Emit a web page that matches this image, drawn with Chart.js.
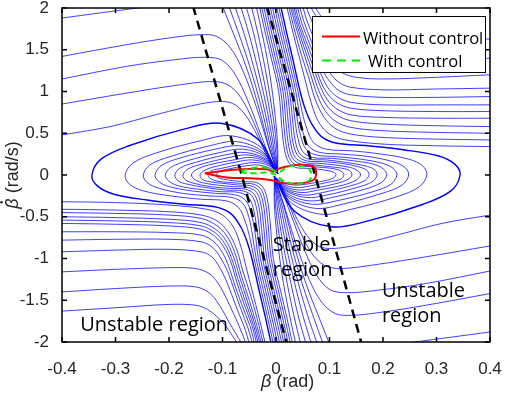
<!DOCTYPE html>
<html>
<head>
<meta charset="utf-8">
<script src="https://cdn.jsdelivr.net/npm/chart.js@4.4.1/dist/chart.umd.min.js"></script>
<style>
  html, body { margin: 0; padding: 0; background: #fff; }
  #wrap { width: 505px; height: 395px; }
</style>
</head>
<body>
<div id="wrap"><canvas id="phase" width="505" height="395"></canvas></div>
<script>
// axis ticks
const xTicks = [-0.4, -0.3, -0.2, -0.1, 0, 0.1, 0.2, 0.3, 0.4];
const xTickLabels = ['-0.4', '-0.3', '-0.2', '-0.1', '0', '0.1', '0.2', '0.3', '0.4'];
const yTicks = [-2, -1.5, -1, -0.5, 0, 0.5, 1, 1.5, 2];
const yTickLabels = ['-2', '-1.5', '-1', '-0.5', '0', '0.5', '1', '1.5', '2'];

// streamlines, every line is [beta, betaDot, beta, betaDot, ...]
// upper left: come in from the left edge, turn down into the origin
const upperLeftFlow = [
  [-0.4,1.88, -0.33,1.94, -0.26,2.0, -0.2,2.06],
  [-0.4,1.42, -0.28,1.56, -0.19,1.65, -0.142,1.68, -0.111,1.66, -0.085,1.52, -0.062,1.25, -0.036,0.8, -0.015,0.36, 0.003,0.02],
  [-0.4,1.15, -0.28,1.3, -0.19,1.38, -0.13,1.41, -0.1,1.37, -0.076,1.2, -0.052,0.88, -0.027,0.46, -0.008,0.14, 0.003,0.02],
  [-0.4,0.85, -0.28,0.98, -0.19,1.07, -0.12,1.12, -0.09,1.08, -0.066,0.93, -0.041,0.62, -0.018,0.26, 0.003,0.02],
  [-0.4,0.48, -0.31,0.58, -0.22,0.73, -0.142,0.85, -0.1,0.88, -0.076,0.84, -0.053,0.68, -0.028,0.38, -0.009,0.12, 0.003,0.02]
];
// lower right: come in from the right edge, turn up into the origin
const lowerRightFlow = [
  [0.4,-1.88, 0.33,-1.94, 0.26,-2.0, 0.2,-2.06],
  [0.4,-1.42, 0.28,-1.56, 0.19,-1.65, 0.142,-1.68, 0.111,-1.66, 0.085,-1.52, 0.062,-1.25, 0.036,-0.8, 0.015,-0.36, -0.003,-0.02],
  [0.4,-1.15, 0.28,-1.3, 0.19,-1.38, 0.13,-1.41, 0.1,-1.37, 0.076,-1.2, 0.052,-0.88, 0.027,-0.46, 0.008,-0.14, -0.003,-0.02],
  [0.4,-0.85, 0.28,-0.98, 0.19,-1.07, 0.12,-1.12, 0.09,-1.08, 0.066,-0.93, 0.041,-0.62, 0.018,-0.26, -0.003,-0.02],
  [0.4,-0.48, 0.31,-0.58, 0.22,-0.73, 0.142,-0.85, 0.1,-0.88, 0.076,-0.84, 0.053,-0.68, 0.028,-0.38, 0.009,-0.12, -0.003,-0.02]
];
// from the top edge down into the origin
const topFlow = [
  [-0.1,2.02, -0.08,1.7, -0.056,1.3, -0.034,0.85, -0.014,0.36, 0.003,0.02],
  [-0.088,2.02, -0.07,1.7, -0.049,1.3, -0.029,0.85, -0.011,0.36, 0.003,0.02],
  [-0.077,2.02, -0.06,1.7, -0.042,1.3, -0.024,0.85, -0.008,0.36, 0.003,0.02],
  [-0.066,2.02, -0.051,1.7, -0.035,1.3, -0.019,0.85, -0.005,0.36, 0.003,0.02],
  [-0.056,2.02, -0.042,1.7, -0.028,1.3, -0.014,0.85, -0.002,0.36, 0.003,0.02],
  [-0.046,2.02, -0.034,1.7, -0.021,1.3, -0.009,0.85, 0.001,0.36, 0.003,0.02],
  [-0.037,2.02, -0.026,1.7, -0.014,1.3, -0.004,0.85, 0.003,0.36, 0.003,0.02]
];
// from the bottom edge up into the origin
const bottomFlow = [
  [0.1,-2.02, 0.08,-1.7, 0.056,-1.3, 0.034,-0.85, 0.014,-0.36, -0.003,-0.02],
  [0.088,-2.02, 0.07,-1.7, 0.049,-1.3, 0.029,-0.85, 0.011,-0.36, -0.003,-0.02],
  [0.077,-2.02, 0.06,-1.7, 0.042,-1.3, 0.024,-0.85, 0.008,-0.36, -0.003,-0.02],
  [0.066,-2.02, 0.051,-1.7, 0.035,-1.3, 0.019,-0.85, 0.005,-0.36, -0.003,-0.02],
  [0.056,-2.02, 0.042,-1.7, 0.028,-1.3, 0.014,-0.85, 0.002,-0.36, -0.003,-0.02],
  [0.046,-2.02, 0.034,-1.7, 0.021,-1.3, 0.009,-0.85, -0.001,-0.36, -0.003,-0.02],
  [0.037,-2.02, 0.026,-1.7, 0.014,-1.3, 0.004,-0.85, -0.003,-0.36, -0.003,-0.02]
];
// lower left: from the left edge, bending down to the bottom edge
const leftFlow = [
  [-0.4,-0.32, -0.3,-0.33, -0.2,-0.36, -0.13,-0.41, -0.1,-0.48, -0.08,-0.62, -0.066,-0.85, -0.056,-1.1, -0.044,-1.4, -0.032,-1.7, -0.02,-2.02],
  [-0.4,-0.41, -0.3,-0.42, -0.2,-0.44, -0.14,-0.48, -0.11,-0.55, -0.09,-0.68, -0.073,-0.9, -0.062,-1.15, -0.047,-1.45, -0.032,-1.8, -0.024,-2.02],
  [-0.4,-0.45, -0.3,-0.46, -0.2,-0.48, -0.14,-0.52, -0.112,-0.6, -0.092,-0.73, -0.077,-0.93, -0.065,-1.2, -0.05,-1.5, -0.036,-1.8, -0.027,-2.02],
  [-0.4,-0.5, -0.3,-0.51, -0.2,-0.53, -0.14,-0.57, -0.113,-0.65, -0.094,-0.78, -0.08,-0.97, -0.068,-1.22, -0.054,-1.5, -0.039,-1.8, -0.03,-2.02],
  [-0.4,-0.54, -0.3,-0.55, -0.2,-0.57, -0.14,-0.61, -0.114,-0.69, -0.096,-0.82, -0.083,-1.0, -0.071,-1.25, -0.057,-1.52, -0.042,-1.8, -0.033,-2.02],
  [-0.4,-0.58, -0.3,-0.59, -0.2,-0.61, -0.14,-0.65, -0.115,-0.73, -0.098,-0.86, -0.085,-1.03, -0.074,-1.27, -0.06,-1.54, -0.045,-1.8, -0.036,-2.02],
  [-0.4,-0.68, -0.3,-0.68, -0.2,-0.69, -0.14,-0.72, -0.116,-0.8, -0.1,-0.93, -0.088,-1.1, -0.077,-1.32, -0.063,-1.57, -0.048,-1.82, -0.04,-2.02],
  [-0.4,-0.78, -0.3,-0.77, -0.2,-0.77, -0.14,-0.8, -0.118,-0.87, -0.103,-1.0, -0.09,-1.16, -0.079,-1.36, -0.066,-1.6, -0.052,-1.84, -0.044,-2.02],
  [-0.4,-0.92, -0.3,-0.9, -0.2,-0.89, -0.14,-0.92, -0.12,-0.98, -0.106,-1.1, -0.094,-1.25, -0.083,-1.43, -0.07,-1.65, -0.057,-1.86, -0.05,-2.02],
  [-0.4,-1.16, -0.3,-1.13, -0.2,-1.11, -0.15,-1.12, -0.125,-1.18, -0.11,-1.28, -0.098,-1.41, -0.086,-1.57, -0.073,-1.75, -0.062,-1.92, -0.056,-2.02],
  [-0.4,-1.4, -0.3,-1.36, -0.2,-1.33, -0.15,-1.34, -0.127,-1.4, -0.112,-1.5, -0.1,-1.62, -0.088,-1.76, -0.075,-1.9, -0.064,-2.02],
  [-0.4,-1.63, -0.3,-1.59, -0.2,-1.55, -0.15,-1.56, -0.128,-1.61, -0.11,-1.7, -0.095,-1.8, -0.082,-1.92, -0.072,-2.02]
];
// upper right: from the right edge, bending up to the top edge
const rightFlow = [
  [0.4,0.34, 0.3,0.35, 0.2,0.37, 0.13,0.42, 0.1,0.49, 0.08,0.63, 0.066,0.86, 0.056,1.1, 0.044,1.4, 0.032,1.7, 0.02,2.02],
  [0.4,0.42, 0.3,0.43, 0.2,0.45, 0.14,0.49, 0.11,0.56, 0.09,0.69, 0.073,0.91, 0.062,1.15, 0.047,1.45, 0.032,1.8, 0.024,2.02],
  [0.4,0.5, 0.3,0.51, 0.2,0.53, 0.14,0.57, 0.112,0.64, 0.092,0.77, 0.077,0.96, 0.065,1.2, 0.05,1.5, 0.036,1.8, 0.027,2.02],
  [0.4,0.58, 0.3,0.59, 0.2,0.61, 0.14,0.65, 0.113,0.72, 0.094,0.84, 0.08,1.01, 0.068,1.24, 0.054,1.5, 0.039,1.8, 0.03,2.02],
  [0.4,0.68, 0.3,0.68, 0.2,0.69, 0.14,0.72, 0.114,0.79, 0.096,0.9, 0.083,1.06, 0.071,1.27, 0.057,1.52, 0.042,1.8, 0.033,2.02],
  [0.4,0.76, 0.3,0.76, 0.2,0.77, 0.14,0.8, 0.115,0.86, 0.098,0.96, 0.085,1.1, 0.074,1.3, 0.06,1.54, 0.045,1.8, 0.036,2.02],
  [0.4,0.84, 0.3,0.84, 0.2,0.84, 0.14,0.87, 0.116,0.93, 0.1,1.02, 0.088,1.15, 0.077,1.33, 0.063,1.57, 0.048,1.82, 0.04,2.02],
  [0.4,0.94, 0.3,0.93, 0.2,0.93, 0.14,0.96, 0.118,1.01, 0.103,1.1, 0.09,1.22, 0.079,1.38, 0.066,1.6, 0.052,1.84, 0.044,2.02],
  [0.4,1.04, 0.3,1.03, 0.2,1.02, 0.14,1.05, 0.12,1.1, 0.106,1.18, 0.094,1.3, 0.083,1.45, 0.07,1.65, 0.057,1.86, 0.05,2.02],
  [0.4,1.2, 0.3,1.17, 0.2,1.15, 0.15,1.17, 0.125,1.22, 0.11,1.31, 0.098,1.43, 0.086,1.58, 0.073,1.75, 0.062,1.92, 0.056,2.02],
  [0.4,1.4, 0.3,1.36, 0.2,1.33, 0.15,1.34, 0.127,1.4, 0.112,1.5, 0.1,1.62, 0.088,1.76, 0.075,1.9, 0.064,2.02],
  [0.4,1.63, 0.3,1.59, 0.2,1.55, 0.15,1.56, 0.128,1.61, 0.11,1.7, 0.095,1.8, 0.082,1.92, 0.072,2.02]
];
// nested loops opening to the right (left half), outermost first
const leftLoops = [
  [0.003,0.02, -0.034,0.43, -0.103,0.62, -0.172,0.55, -0.275,0.35, -0.327,0.19, -0.344,0.0, -0.334,-0.13, -0.303,-0.23, -0.241,-0.3, -0.172,-0.35, -0.114,-0.38, -0.085,-0.46, -0.066,-0.62, -0.054,-0.8, -0.045,-1.0, -0.031,-1.4, -0.02,-1.7, -0.009,-2.02],
  [0.003,0.02, -0.028,0.33, -0.085,0.47, -0.141,0.41, -0.226,0.26, -0.268,0.14, -0.282,0.0, -0.274,-0.11, -0.248,-0.19, -0.197,-0.25, -0.141,-0.29, -0.093,-0.31, -0.07,-0.39, -0.058,-0.55, -0.049,-0.75, -0.041,-1.0, -0.027,-1.4, -0.016,-1.7, -0.005,-2.02],
  [0.003,0.02, -0.025,0.28, -0.074,0.4, -0.124,0.35, -0.198,0.22, -0.236,0.12, -0.248,0.0, -0.241,-0.09, -0.218,-0.16, -0.174,-0.22, -0.124,-0.25, -0.082,-0.27, -0.062,-0.34, -0.051,-0.5, -0.044,-0.72, -0.037,-1.0, -0.023,-1.4, -0.012,-1.7, -0.001,-2.02],
  [0.003,0.02, -0.023,0.25, -0.068,0.35, -0.113,0.31, -0.181,0.2, -0.215,0.11, -0.226,0.0, -0.219,-0.08, -0.199,-0.14, -0.158,-0.19, -0.113,-0.22, -0.075,-0.24, -0.056,-0.31, -0.046,-0.47, -0.039,-0.7, -0.033,-1.0, -0.019,-1.4, -0.008,-1.7, 0.003,-2.02],
  [0.003,0.02, -0.021,0.22, -0.062,0.31, -0.104,0.27, -0.166,0.17, -0.197,0.09, -0.207,0.0, -0.201,-0.07, -0.182,-0.13, -0.145,-0.17, -0.104,-0.2, -0.068,-0.21, -0.05,-0.28, -0.041,-0.44, -0.035,-0.68, -0.029,-1.0, -0.015,-1.4, -0.004,-1.7, 0.007,-2.02],
  [0.003,0.02, -0.019,0.19, -0.057,0.27, -0.095,0.24, -0.151,0.15, -0.18,0.08, -0.189,0.0, -0.183,-0.07, -0.166,-0.11, -0.132,-0.15, -0.095,-0.18, -0.062,-0.19, -0.045,-0.25, -0.036,-0.41, -0.031,-0.66, -0.025,-1.0, -0.011,-1.4, 0.0,-1.7, 0.011,-2.02],
  [0.003,0.02, -0.017,0.17, -0.052,0.24, -0.087,0.21, -0.139,0.13, -0.165,0.07, -0.174,0.0, -0.169,-0.06, -0.153,-0.1, -0.122,-0.14, -0.087,-0.16, -0.057,-0.17, -0.041,-0.23, -0.032,-0.38, -0.027,-0.64, -0.021,-1.0, -0.007,-1.4, 0.004,-1.7, 0.015,-2.02],
  [0.003,0.02, -0.016,0.15, -0.047,0.21, -0.079,0.18, -0.126,0.12, -0.15,0.06, -0.158,0.0, -0.153,-0.05, -0.139,-0.09, -0.111,-0.12, -0.079,-0.14, -0.052,-0.15, -0.036,-0.21, -0.028,-0.36, -0.023,-0.62, -0.017,-1.0, -0.003,-1.4, 0.008,-1.7, 0.019,-2.02],
  [0.003,0.02, -0.014,0.13, -0.043,0.18, -0.071,0.16, -0.114,0.1, -0.135,0.05, -0.142,0.0, -0.138,-0.05, -0.125,-0.08, -0.099,-0.1, -0.071,-0.12, -0.047,-0.13, -0.032,-0.19, -0.024,-0.34, -0.019,-0.6, -0.013,-1.0, 0.001,-1.4, 0.012,-1.7, 0.023,-2.02],
  [0.003,0.02, -0.013,0.11, -0.038,0.15, -0.064,0.13, -0.102,0.08, -0.121,0.05, -0.127,0.0, -0.123,-0.04, -0.112,-0.07, -0.089,-0.09, -0.064,-0.1, -0.042,-0.11, -0.028,-0.17, -0.02,-0.32, -0.015,-0.58, -0.009,-1.0, 0.005,-1.4, 0.016,-1.7, 0.027,-2.02],
  [0.003,0.02, -0.011,0.08, -0.034,0.12, -0.056,0.11, -0.09,0.07, -0.106,0.04, -0.112,0.0, -0.109,-0.03, -0.099,-0.05, -0.078,-0.07, -0.056,-0.08, -0.037,-0.09, -0.024,-0.15, -0.016,-0.3, -0.011,-0.56, -0.005,-1.0, 0.009,-1.4, 0.02,-1.7, 0.031,-2.02]
];
// nested loops opening to the left (right half), outermost first
const rightLoops = [
  [-0.003,-0.02, 0.034,-0.43, 0.103,-0.62, 0.172,-0.55, 0.275,-0.35, 0.327,-0.19, 0.344,0.0, 0.334,0.13, 0.303,0.23, 0.241,0.3, 0.172,0.35, 0.114,0.38, 0.085,0.46, 0.066,0.62, 0.054,0.8, 0.045,1.0, 0.031,1.4, 0.02,1.7, 0.009,2.02],
  [-0.003,-0.02, 0.028,-0.33, 0.085,-0.47, 0.141,-0.41, 0.226,-0.26, 0.268,-0.14, 0.282,0.0, 0.274,0.11, 0.248,0.19, 0.197,0.25, 0.141,0.29, 0.093,0.31, 0.07,0.39, 0.058,0.55, 0.049,0.75, 0.041,1.0, 0.027,1.4, 0.016,1.7, 0.005,2.02],
  [-0.003,-0.02, 0.025,-0.28, 0.074,-0.4, 0.124,-0.35, 0.198,-0.22, 0.236,-0.12, 0.248,0.0, 0.241,0.09, 0.218,0.16, 0.174,0.22, 0.124,0.25, 0.082,0.27, 0.062,0.34, 0.051,0.5, 0.044,0.72, 0.037,1.0, 0.023,1.4, 0.012,1.7, 0.001,2.02],
  [-0.003,-0.02, 0.023,-0.25, 0.068,-0.35, 0.113,-0.31, 0.181,-0.2, 0.215,-0.11, 0.226,0.0, 0.219,0.08, 0.199,0.14, 0.158,0.19, 0.113,0.22, 0.075,0.24, 0.056,0.31, 0.046,0.47, 0.039,0.7, 0.033,1.0, 0.019,1.4, 0.008,1.7, -0.003,2.02],
  [-0.003,-0.02, 0.021,-0.22, 0.062,-0.31, 0.104,-0.27, 0.166,-0.17, 0.197,-0.09, 0.207,0.0, 0.201,0.07, 0.182,0.13, 0.145,0.17, 0.104,0.2, 0.068,0.21, 0.05,0.28, 0.041,0.44, 0.035,0.68, 0.029,1.0, 0.015,1.4, 0.004,1.7, -0.007,2.02],
  [-0.003,-0.02, 0.019,-0.19, 0.057,-0.27, 0.095,-0.24, 0.151,-0.15, 0.18,-0.08, 0.189,0.0, 0.183,0.07, 0.166,0.11, 0.132,0.15, 0.095,0.18, 0.062,0.19, 0.045,0.25, 0.036,0.41, 0.031,0.66, 0.025,1.0, 0.011,1.4, 0.0,1.7, -0.011,2.02],
  [-0.003,-0.02, 0.017,-0.17, 0.052,-0.24, 0.087,-0.21, 0.139,-0.13, 0.165,-0.07, 0.174,0.0, 0.169,0.06, 0.153,0.1, 0.122,0.14, 0.087,0.16, 0.057,0.17, 0.041,0.23, 0.032,0.38, 0.027,0.64, 0.021,1.0, 0.007,1.4, -0.004,1.7, -0.015,2.02],
  [-0.003,-0.02, 0.016,-0.15, 0.047,-0.21, 0.079,-0.18, 0.126,-0.12, 0.15,-0.06, 0.158,0.0, 0.153,0.05, 0.139,0.09, 0.111,0.12, 0.079,0.14, 0.052,0.15, 0.036,0.21, 0.028,0.36, 0.023,0.62, 0.017,1.0, 0.003,1.4, -0.008,1.7, -0.019,2.02],
  [-0.003,-0.02, 0.014,-0.13, 0.043,-0.18, 0.071,-0.16, 0.114,-0.1, 0.135,-0.05, 0.142,0.0, 0.138,0.05, 0.125,0.08, 0.099,0.1, 0.071,0.12, 0.047,0.13, 0.032,0.19, 0.024,0.34, 0.019,0.6, 0.013,1.0, -0.001,1.4, -0.012,1.7, -0.023,2.02],
  [-0.003,-0.02, 0.013,-0.11, 0.038,-0.15, 0.064,-0.13, 0.102,-0.08, 0.121,-0.05, 0.127,0.0, 0.123,0.04, 0.112,0.07, 0.089,0.09, 0.064,0.1, 0.042,0.11, 0.028,0.17, 0.02,0.32, 0.015,0.58, 0.009,1.0, -0.005,1.4, -0.016,1.7, -0.027,2.02],
  [-0.003,-0.02, 0.011,-0.08, 0.034,-0.12, 0.056,-0.11, 0.09,-0.07, 0.106,-0.04, 0.112,0.0, 0.109,0.03, 0.099,0.05, 0.078,0.07, 0.056,0.08, 0.037,0.09, 0.024,0.15, 0.016,0.3, 0.011,0.56, 0.005,1.0, -0.009,1.4, -0.02,1.7, -0.031,2.02]
];

// borders of the stable region
const stableEdgeLeft = [-0.155,2.02, -0.064,0, 0.02,-2.02];
const stableEdgeRight = [-0.017,2.02, 0.073,0, 0.16,-2.02];

// trajectories
const withoutControl = [-0.133,0.02, -0.111,0.04, -0.064,0.07, -0.017,0.07, -0.005,0.04, 0.007,0.08, 0.039,0.12, 0.07,0.1, 0.075,0.02, 0.07,-0.06, 0.045,-0.1, 0.014,-0.1, -0.011,-0.06, -0.049,-0.04, -0.092,-0.03, -0.133,0.02];
const withControl = [-0.064,0.05, -0.036,0.09, -0.011,0.08, 0.004,0.03, 0.02,0.09, 0.042,0.11, 0.062,0.07, 0.065,-0.04, 0.054,-0.09, 0.029,-0.1, 0.011,-0.06, 0.001,0.0, -0.017,0.03, -0.042,0.02, -0.062,0.03, -0.064,0.05];

const seriesNames = ['Without control', 'With control'];

// text placed in the plot, anchored in data units
const regionNotes = [
  { lines: ['Stable', 'region'], x: -0.006, y: -0.916 },
  { lines: ['Unstable', 'region'], x: 0.198, y: -1.467 },
  { lines: ['Unstable region'], x: -0.366, y: -1.868 }
];

const toPoints = flat => {
  const pts = [];
  for (let i = 0; i < flat.length; i += 2) pts.push({ x: flat[i], y: flat[i + 1] });
  return pts;
};

const flowLine = (flat, width) => ({
  data: toPoints(flat),
  borderColor: '#0000ff',
  borderWidth: width || 0.75,
  showLine: true,
  pointRadius: 0,
  tension: 0.35,
  order: 3
});

const datasets = [];
[upperLeftFlow, lowerRightFlow, topFlow, bottomFlow, leftFlow, rightFlow].forEach(group => {
  group.forEach(l => datasets.push(flowLine(l)));
});
leftLoops.forEach((l, i) => datasets.push(flowLine(l, i === 0 ? 1.4 : 0.75)));
rightLoops.forEach((l, i) => datasets.push(flowLine(l, i === 0 ? 1.4 : 0.75)));

[stableEdgeLeft, stableEdgeRight].forEach(l => datasets.push({
  data: toPoints(l),
  borderColor: '#000',
  borderWidth: 2.5,
  borderDash: [9, 6],
  showLine: true,
  pointRadius: 0,
  tension: 0,
  order: 2
}));

datasets.push({
  label: seriesNames[0],
  data: toPoints(withoutControl),
  borderColor: '#ff0000',
  borderWidth: 2,
  showLine: true,
  pointRadius: 0,
  tension: 0.4,
  order: 1
});
datasets.push({
  label: seriesNames[1],
  data: toPoints(withControl),
  borderColor: '#00ee00',
  borderWidth: 2,
  borderDash: [6, 4],
  showLine: true,
  pointRadius: 0,
  tension: 0.4,
  order: 0
});

// box, inward ticks, region notes, legend and axis titles
const decorPlugin = {
  id: 'decor',
  afterDatasetsDraw(chart) {
    const { ctx, chartArea: a, scales: { x, y } } = chart;
    ctx.save();

    ctx.strokeStyle = '#000';
    ctx.lineWidth = 1.5;
    ctx.strokeRect(a.left, a.top, a.right - a.left, a.bottom - a.top);
    ctx.beginPath();
    xTicks.forEach(v => {
      const px = x.getPixelForValue(v);
      ctx.moveTo(px, a.bottom); ctx.lineTo(px, a.bottom - 5);
      ctx.moveTo(px, a.top); ctx.lineTo(px, a.top + 5);
    });
    yTicks.forEach(v => {
      const py = y.getPixelForValue(v);
      ctx.moveTo(a.left, py); ctx.lineTo(a.left + 5, py);
      ctx.moveTo(a.right, py); ctx.lineTo(a.right - 5, py);
    });
    ctx.stroke();

    ctx.fillStyle = '#000';
    ctx.font = '20px "Open Sans"';
    ctx.textAlign = 'left';
    ctx.textBaseline = 'alphabetic';
    regionNotes.forEach(n => {
      const px = x.getPixelForValue(n.x);
      const py = y.getPixelForValue(n.y);
      n.lines.forEach((t, i) => ctx.fillText(t, px, py + i * 24.5));
    });

    // legend
    const bx = a.right - 178, by = a.top + 8, bw = 173, bh = 56;
    ctx.fillStyle = '#fff';
    ctx.fillRect(bx, by, bw, bh);
    ctx.lineWidth = 1;
    ctx.strokeStyle = '#000';
    ctx.strokeRect(bx + 0.5, by + 0.5, bw, bh);
    ctx.lineWidth = 2;
    ctx.strokeStyle = '#ff0000';
    ctx.beginPath(); ctx.moveTo(bx + 10, by + 20.5); ctx.lineTo(bx + 48, by + 20.5); ctx.stroke();
    ctx.strokeStyle = '#00ee00';
    ctx.setLineDash([9, 6]);
    ctx.beginPath(); ctx.moveTo(bx + 10, by + 44.5); ctx.lineTo(bx + 48, by + 44.5); ctx.stroke();
    ctx.setLineDash([]);
    ctx.fillStyle = '#000';
    ctx.font = '16.5px "Open Sans"';
    ctx.fillText(seriesNames[0], bx + 51, by + 28);
    ctx.fillText(seriesNames[1], bx + 56, by + 51);

    // axis titles
    ctx.fillStyle = '#262626';
    ctx.font = 'italic 18px "Liberation Sans", Arial';
    ctx.fillText('β', 261, 387);
    const w = ctx.measureText('β').width;
    ctx.font = '18px "Liberation Sans", Arial';
    ctx.fillText(' (rad)', 261 + w, 387);

    ctx.translate(18, 175);
    ctx.rotate(-Math.PI / 2);
    ctx.font = 'italic 18px "Liberation Sans", Arial';
    const bw1 = ctx.measureText('β').width;
    ctx.font = '18px "Liberation Sans", Arial';
    const rest = ' (rad/s)';
    const total = bw1 + ctx.measureText(rest).width;
    const sx = -total / 2;
    ctx.font = 'italic 18px "Liberation Sans", Arial';
    ctx.fillText('β', sx, 0);
    ctx.beginPath();
    ctx.arc(sx + bw1 * 0.62, -16.5, 1.3, 0, Math.PI * 2);
    ctx.fill();
    ctx.font = '18px "Liberation Sans", Arial';
    ctx.fillText(rest, sx + bw1, 0);

    ctx.restore();
  }
};

new Chart(document.getElementById('phase'), {
  type: 'scatter',
  data: { datasets },
  options: {
    responsive: false,
    animation: false,
    devicePixelRatio: 1,
    layout: { padding: { left: 0, right: 15, top: 8, bottom: 0 } },
    scales: {
      x: {
        type: 'linear',
        min: -0.4,
        max: 0.4,
        afterBuildTicks: axis => { axis.ticks = xTicks.map(v => ({ value: v })); },
        afterFit: s => { s.height = 53; s.paddingLeft = 0; s.paddingRight = 0; },
        grid: { display: false },
        border: { display: false },
        ticks: {
          color: '#262626',
          font: { family: '"Liberation Sans", Arial', size: 17 },
          padding: 9,
          maxRotation: 0,
          callback: (v, i) => xTickLabels[i]
        }
      },
      y: {
        type: 'linear',
        min: -2,
        max: 2,
        afterBuildTicks: axis => { axis.ticks = yTicks.map(v => ({ value: v })); },
        afterFit: s => { s.width = 62; s.paddingTop = 0; s.paddingBottom = 0; },
        grid: { display: false },
        border: { display: false },
        ticks: {
          color: '#262626',
          font: { family: '"Liberation Sans", Arial', size: 17 },
          padding: 5,
          callback: (v, i) => yTickLabels[i]
        }
      }
    },
    plugins: {
      legend: { display: false },
      tooltip: { enabled: false }
    }
  },
  plugins: [decorPlugin]
});
</script>
</body>
</html>
